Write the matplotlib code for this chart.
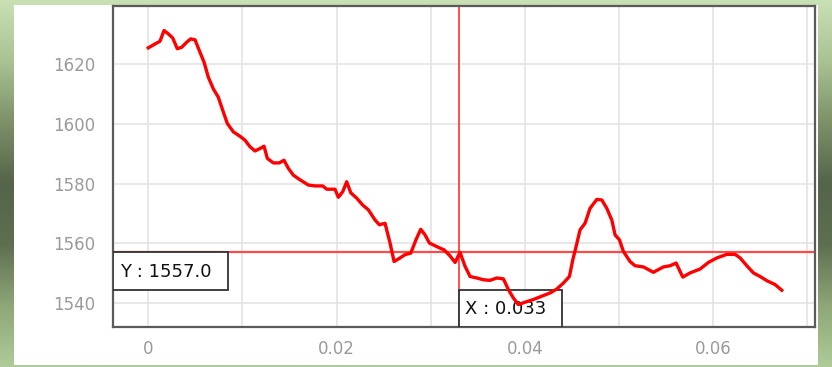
import matplotlib
matplotlib.use("Agg")
import matplotlib.pyplot as plt
import matplotlib.transforms as mtransforms
from matplotlib.colors import LinearSegmentedColormap
from matplotlib.patches import Rectangle
from matplotlib.ticker import MultipleLocator, FuncFormatter
import numpy as np

# series (x in units of 0.001)
x_milli = [0.00, 0.71, 1.24, 1.67, 2.12, 2.59, 3.08, 3.55, 4.08, 4.50, 4.96, 5.49,
           5.92, 6.37, 6.90, 7.43, 7.97, 8.39, 9.03, 9.74, 10.27, 10.80, 11.33, 11.86,
           12.29, 12.64, 13.28, 13.91, 14.41, 14.87, 15.40, 16.04, 16.99, 17.71, 18.52,
           18.95, 19.83, 20.18, 20.65, 21.07, 21.50, 22.13, 22.77, 23.37, 24.08, 24.54,
           25.14, 25.67, 26.10, 26.73, 27.26, 27.87, 28.43, 28.93, 29.39, 29.85, 30.63,
           31.41, 32.04, 32.58, 33.10, 33.64, 34.17, 34.88, 35.58, 36.29, 37.00, 37.71,
           38.24, 38.77, 39.30, 40.01, 40.89, 41.78, 42.67, 43.38, 44.08, 44.72, 45.08,
           45.43, 45.85, 46.38, 46.91, 47.63, 48.16, 48.69, 49.22, 49.57, 50.03, 50.45,
           51.16, 51.69, 52.58, 53.64, 54.70, 55.41, 56.05, 56.76, 57.54, 58.60, 59.48,
           60.37, 61.43, 62.32, 62.85, 63.56, 64.26, 64.97, 65.68, 66.56, 67.27]
y_vals = [1625.4, 1626.7, 1627.6, 1631.2, 1630.1, 1628.7, 1625.1, 1625.6, 1627.3, 1628.4,
          1628.1, 1623.9, 1620.6, 1615.6, 1611.7, 1608.9, 1603.9, 1600.1, 1597.3, 1595.8,
          1594.5, 1592.3, 1590.9, 1591.7, 1592.5, 1588.4, 1586.9, 1586.9, 1587.8, 1585.1,
          1582.8, 1581.4, 1579.5, 1579.2, 1579.2, 1578.1, 1578.1, 1575.4, 1577.3, 1580.6,
          1576.9, 1575.1, 1572.8, 1571.2, 1567.8, 1566.2, 1566.7, 1560.1, 1553.9, 1555.1,
          1556.2, 1556.7, 1561.2, 1564.7, 1562.8, 1560.1, 1558.9, 1557.8, 1555.8, 1553.6,
          1557.0, 1552.3, 1548.9, 1548.4, 1547.8, 1547.6, 1548.4, 1548.1, 1544.5, 1541.7,
          1539.5, 1540.3, 1541.2, 1542.3, 1543.4, 1544.7, 1546.7, 1548.9, 1554.5, 1558.9,
          1564.5, 1566.7, 1571.7, 1574.7, 1574.5, 1571.7, 1567.8, 1562.8, 1561.2, 1557.3,
          1553.9, 1552.5, 1552.1, 1550.3, 1552.1, 1552.5, 1553.4, 1548.7, 1550.1, 1551.4,
          1553.6, 1555.1, 1556.3, 1556.3, 1555.1, 1552.5, 1550.1, 1548.9, 1547.5, 1546.2,
          1544.3]
x_vals = [v / 1000 for v in x_milli]

cursor_x = 0.033
cursor_y = 1557.0

fig = plt.figure(figsize=(8.32, 3.67), dpi=100)

# green frame behind the white panel
bg = fig.add_axes([0, 0, 1, 1], zorder=-10)
frame_cmap = LinearSegmentedColormap.from_list(
    "frame", ["#c9e0b4", "#a9c294", "#7d9068", "#55644a", "#5e6f50", "#8ea678", "#aecb98"])
bg.imshow(np.linspace(0, 1, 256).reshape(-1, 1), cmap=frame_cmap, aspect="auto",
          extent=[0, 1, 0, 1], origin="upper")
bg.add_patch(Rectangle((14 / 832, 2 / 367), 804 / 832, 360 / 367,
                       facecolor="white", edgecolor="none"))
bg.set_xlim(0, 1)
bg.set_ylim(0, 1)
bg.axis("off")

ax = fig.add_axes([113 / 832, 1 - 327 / 367, 702 / 832, 321 / 367])
ax.set_facecolor("white")

ax.plot(x_vals, y_vals, color="#ff0000", lw=2.4, solid_joinstyle="round", zorder=7)

# crosshair
ax.axhline(cursor_y, color="#ff4a4a", lw=1.6, zorder=2)
ax.axvline(cursor_x, color="#ff2020", lw=1.1, zorder=2)

ax.set_xlim(-0.00375, 0.0708)
ax.set_ylim(1532, 1639.4)

ax.xaxis.set_major_locator(MultipleLocator(0.02))
ax.xaxis.set_minor_locator(MultipleLocator(0.01))
ax.yaxis.set_major_locator(MultipleLocator(20))
ax.xaxis.set_major_formatter(FuncFormatter(lambda v, p: "0" if abs(v) < 1e-9 else f"{v:g}"))
ax.grid(True, which="both", color="#e2e2e2", lw=1.1, zorder=0)
ax.tick_params(which="both", length=0, labelsize=12, labelcolor="#9a9a9a")
ax.tick_params(axis="y", pad=13)
ax.tick_params(axis="x", pad=9)
for s in ax.spines.values():
    s.set_color("#5a5a5a")
    s.set_linewidth(1.6)

# cursor value boxes
ty = mtransforms.blended_transform_factory(ax.transAxes, ax.transData)
ax.add_patch(Rectangle((0, cursor_y - 12.7), 0.164, 12.7, transform=ty,
                       facecolor="white", edgecolor="#333333", lw=1.3, zorder=4))
ax.text(0.01, cursor_y - 6.5, "Y : %.1f" % cursor_y, transform=ty, ha="left",
        va="center", fontsize=13, color="#111111", zorder=5)

tx = mtransforms.blended_transform_factory(ax.transData, ax.transAxes)
ax.add_patch(Rectangle((cursor_x, 0), 0.01094, 0.115, transform=tx,
                       facecolor="white", edgecolor="#333333", lw=1.3, zorder=4))
ax.text(cursor_x + 0.0006, 0.0575, "X : %.3f" % cursor_x, transform=tx, ha="left",
        va="center", fontsize=13, color="#111111", zorder=5)

fig.savefig("out.png", dpi=100)
